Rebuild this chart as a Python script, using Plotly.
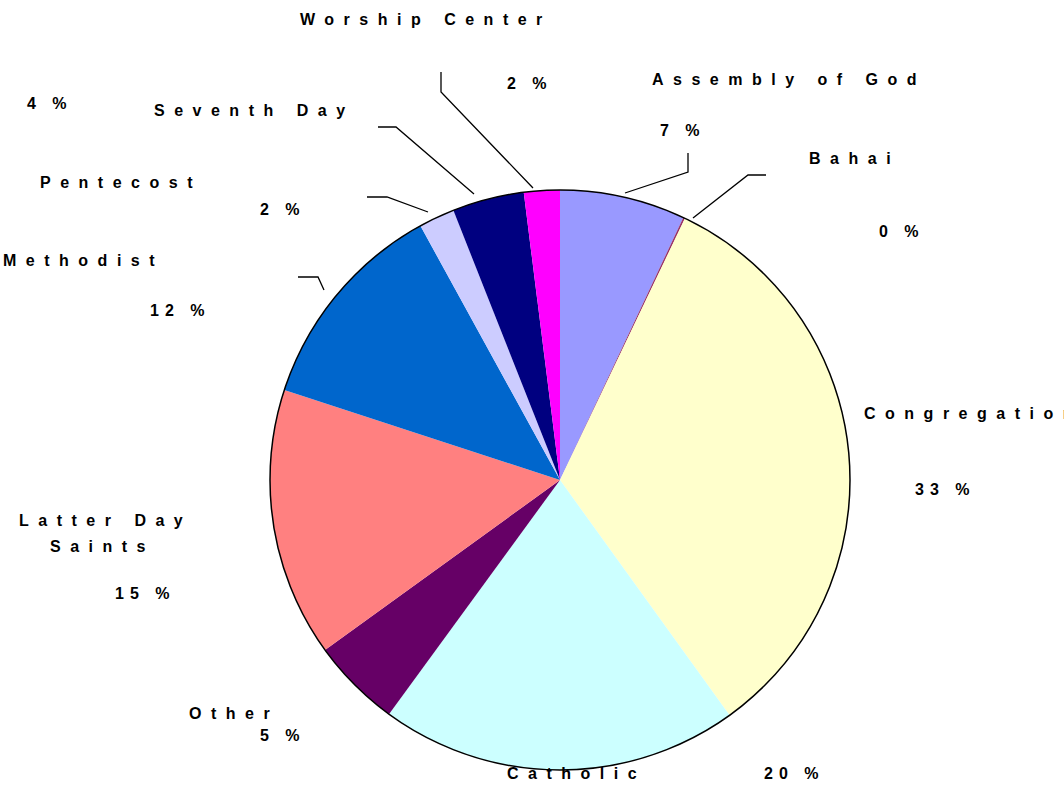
import plotly.graph_objects as go

W, H = 1064, 791

# ---- data ----
religions = ["Assembly of God", "Bahai", "Congregational", "Catholic", "Other",
             "Latter Day Saints", "Methodist", "Pentecost", "Seventh Day", "Worship Center"]
shares = [7, 0.1, 33, 20, 5, 15, 12, 2, 4, 2]
pct_labels = ["7 %", "0 %", "33 %", "20 %", "5 %", "15 %", "12 %", "2 %", "4 %", "2 %"]
name_labels = ["Assembly of God", "Bahai", "Congregational", "Catholic", "Other",
               "Latter Day<br>Saints", "Methodist", "Pentecost", "Seventh Day", "Worship Center"]
colors = ["#9999FF", "#993366", "#FFFFCC", "#CCFFFF", "#660066",
          "#FF8080", "#0066CC", "#CCCCFF", "#000080", "#FF00FF"]

# ---- layout helpers (pixel -> paper) ----
def px(x, y):
    return x / W, 1 - y / H

cx, cy, r = 560, 480, 290
dom_x = [(cx - r) / W, (cx + r) / W]
dom_y = [(H - cy - r) / H, (H - cy + r) / H]

fig = go.Figure()
fig.add_trace(go.Pie(
    labels=religions, values=shares, sort=False, direction="clockwise", rotation=0,
    marker=dict(colors=colors, line=dict(width=0)),
    textinfo="none", hoverinfo="label+percent", showlegend=False,
    domain=dict(x=dom_x, y=dom_y),
))
# outer outline
fig.add_trace(go.Pie(
    labels=["outline"], values=[1], sort=False,
    marker=dict(colors=["rgba(0,0,0,0)"], line=dict(color="black", width=1.5)),
    textinfo="none", hoverinfo="skip", showlegend=False,
    domain=dict(x=dom_x, y=dom_y),
))

# label positions (left edge, middle y; pixels)
name_pos = {
    "Assembly of God": [(650, 80)], "Bahai": [(807, 158)], "Congregational": [(862, 413)],
    "Catholic": [(505, 773)], "Other": [(187, 713)],
    "Latter Day Saints": [(17, 520), (48, 546)],
    "Methodist": [(1, 260)], "Pentecost": [(38, 182)], "Seventh Day": [(152, 110)],
    "Worship Center": [(298, 20)],
}
pct_pos = {
    "Assembly of God": (658, 131), "Bahai": (877, 232), "Congregational": (913, 490),
    "Catholic": (762, 773), "Other": (258, 735), "Latter Day Saints": (113, 593),
    "Methodist": (148, 310), "Pentecost": (258, 210), "Seventh Day": (25, 103),
    "Worship Center": (505, 84),
}

def spaced(t, ls):
    return f'<span style="letter-spacing:{ls}px">{t}</span>'

font = dict(family="Liberation Sans, Arial, sans-serif", size=16, color="black", weight="bold")
anns = []
for rel, nm, pc in zip(religions, name_labels, pct_labels):
    for part, (bx, by) in zip(nm.split("<br>"), name_pos[rel]):
        x, y = px(bx, by)
        anns.append(dict(x=x, y=y, xref="paper", yref="paper", text=spaced(part, 9.5),
                         showarrow=False, xanchor="left", yanchor="middle", font=font))
    x, y = px(*pct_pos[rel])
    anns.append(dict(x=x, y=y, xref="paper", yref="paper", text=spaced(pc, 6),
                     showarrow=False, xanchor="left", yanchor="middle", font=font))

# leader lines (pixels)
leaders = [
    [(441, 72), (441, 92), (533, 188)],      # Worship Center
    [(378, 127), (396, 127), (474, 194)],    # Seventh Day
    [(367, 197), (387, 197), (428, 212)],    # Pentecost
    [(298, 277), (318, 277), (324, 290)],    # Methodist
    [(688, 153), (688, 172), (625, 193)],    # Assembly of God
    [(766, 175), (748, 175), (693, 218)],    # Bahai
]
shapes = []
for pts in leaders:
    path = "M " + " L ".join(f"{px(x, y)[0]},{px(x, y)[1]}" for x, y in pts)
    shapes.append(dict(type="path", path=path, xref="paper", yref="paper",
                       line=dict(color="black", width=1.3)))

fig.update_layout(
    width=W, height=H, margin=dict(l=0, r=0, t=0, b=0),
    paper_bgcolor="white", plot_bgcolor="white",
    annotations=anns, shapes=shapes, showlegend=False,
)
fig.write_html("out.html")
